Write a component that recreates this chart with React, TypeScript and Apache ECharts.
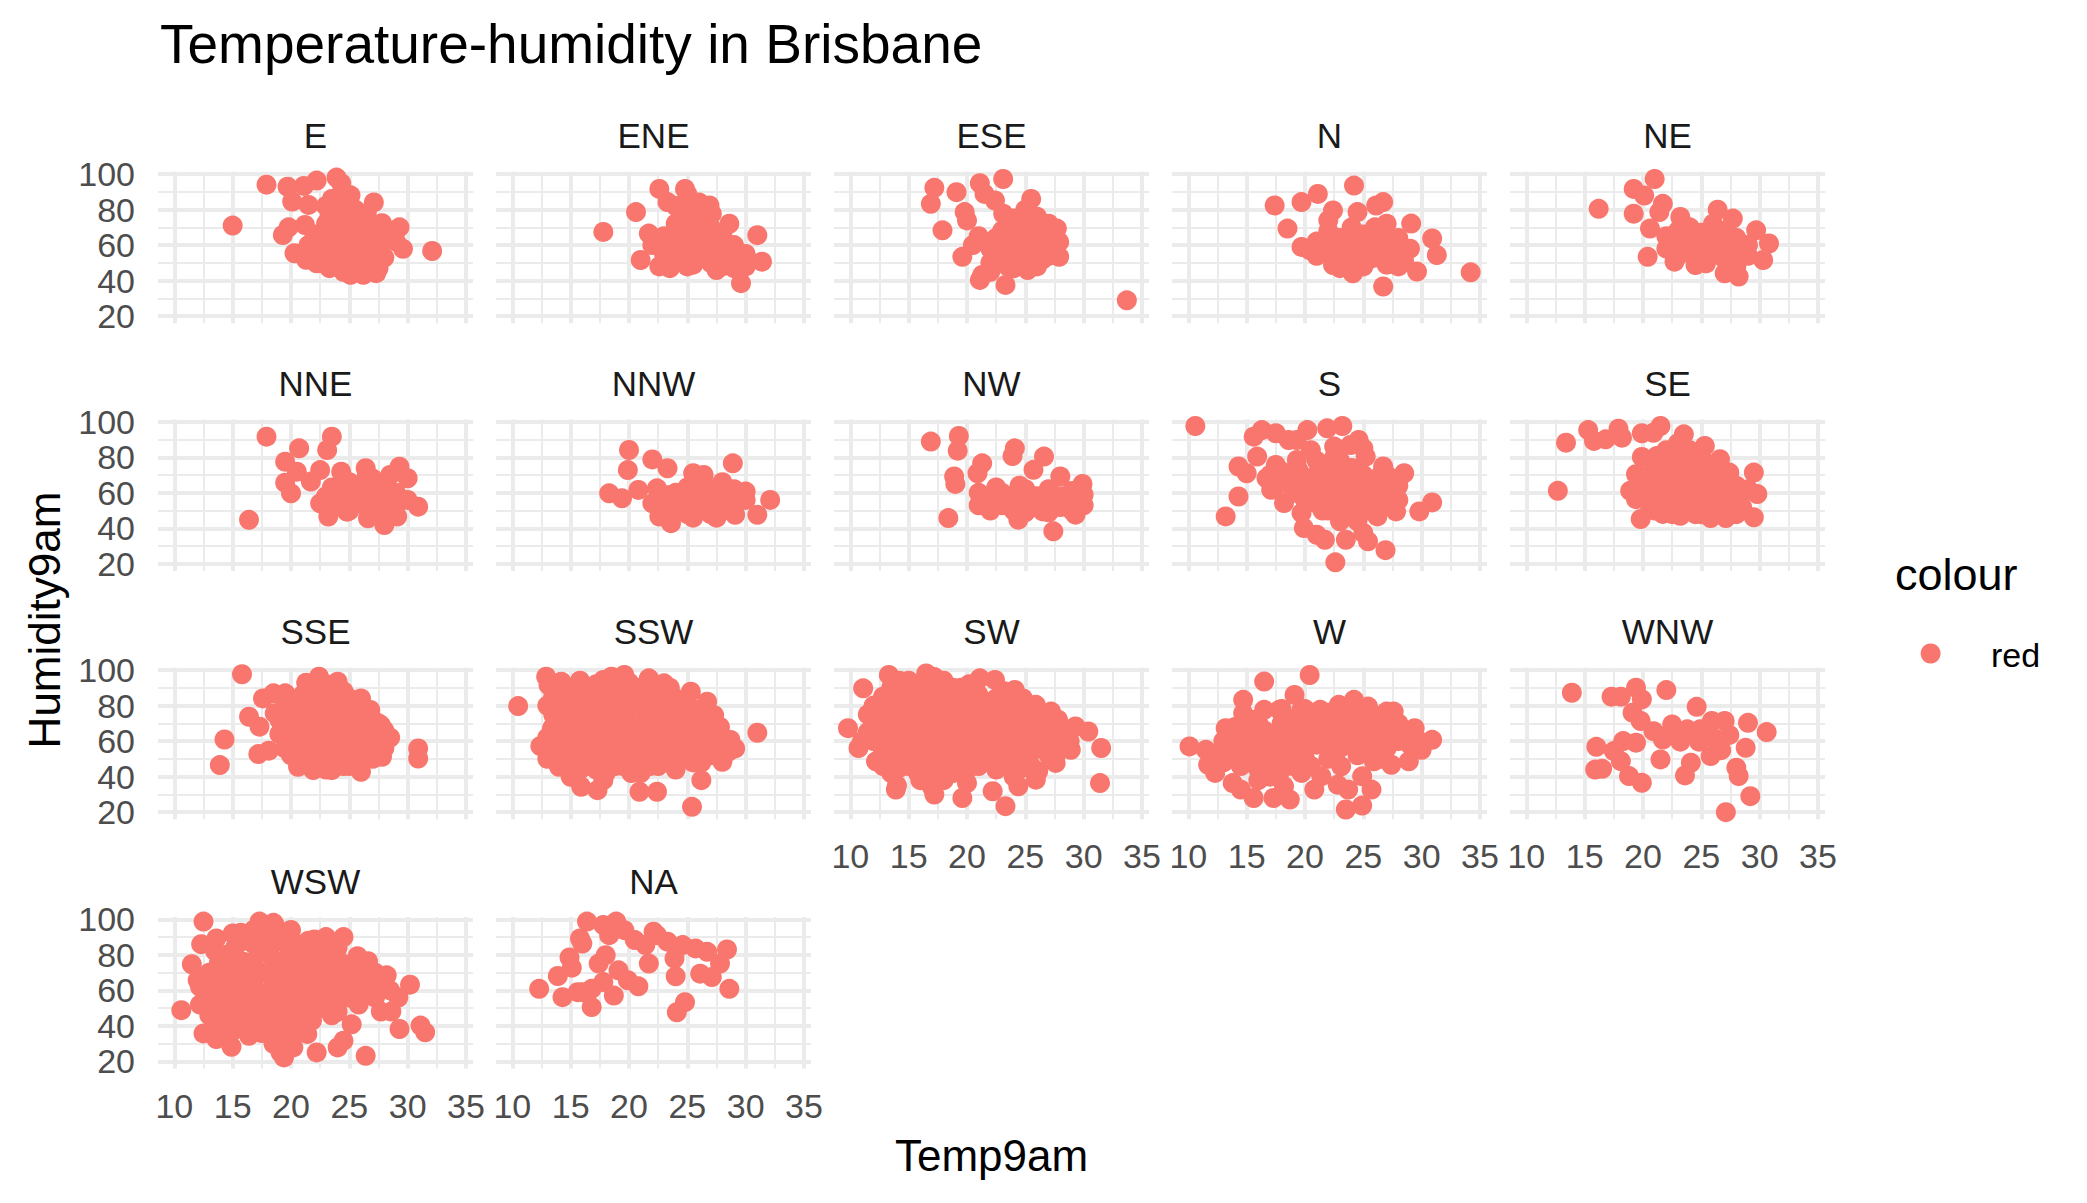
import React, { useEffect, useRef } from 'react';
import * as echarts from 'echarts';

const FONT = '"Liberation Sans", Arial, Helvetica, sans-serif';
const TITLE = 'Temperature-humidity in Brisbane';
const X_TITLE = 'Temp9am';
const Y_TITLE = 'Humidity9am';
const LEGEND_TITLE = 'colour';
const LEGEND_ITEM = 'red';
const POINT_COLOR = '#F8766D';

const PANELS = ['E', 'ENE', 'ESE', 'N', 'NE', 'NNE', 'NNW', 'NW', 'S', 'SE', 'SSE', 'SSW', 'SW', 'W', 'WNW', 'WSW', 'NA'];
const X_TICKS = [10, 15, 20, 25, 30, 35];
const X_MINOR = [12.5, 17.5, 22.5, 27.5, 32.5];
const Y_TICKS = [20, 40, 60, 80, 100];
const Y_MINOR = [30, 50, 70, 90];
const X_MIN = 8.6, X_MAX = 35.6, Y_MIN = 16, Y_MAX = 101.3;

type P = [number, number];

const E: P[] = [[15,71],[17.9,94],[19.7,92.9],[21.1,93.3],[22.2,96.3],[23.9,98],[24.3,94.8],[20.1,84.5],[21.5,82.6],[25.1,88],[27.1,84],[19.8,70],[19.3,65.7],[21.2,71.3],[20.3,55.4],[23.3,76],[27.8,72.3],[29.3,70],[29.6,57.9],[32.1,56.7],[22.2,49.8],[23.3,47],[25.1,43.3],[26.2,43.3],[27.3,44.2],[21.3,51.7],
[23.5,86],[24.5,90],[25,84],[24,80],[25.5,80],[26.5,78],[23,72],[24.5,74],[26,74],[27,70],[28.5,68],[22,66],[23.5,66],[25,67],[26.5,65],[28,63],[21.5,60],[23,60],[24.5,61],[26,60],[27.5,58],[29,62],[22,55],[23.5,54],[25,55],[26.5,54],[28,53],[22.5,50],[24,49],[25.5,48],[27,49],[24.5,45],[26.5,45],[27.5,47],
[22.5,58],[23.5,62],[24,57],[24.5,52],[25.5,58],[26,52],[25.5,64],[27,62],[27.5,55],[24,68],[25.5,72],[24.5,78],[23,82]];

const ENE: P[] = [[17.8,67.4],[20.6,78.6],[22.6,91.6],[23.3,84.2],[24.8,91.6],[25,88.8],[26.9,82.3],[27.1,77.7],[28.6,72],[31,65.6],[21,51.6],[22.6,48],[29.6,38.6],[31.4,50.7],[30,48],[21.7,66.5],
[22,60],[23,55],[23,65],[24,72],[24,62],[24,52],[25,78],[25,68],[25,58],[25,48],[26,74],[26,64],[26,54],[27,70],[27,60],[27,50],[28,66],[28,56],[28,48],[29,60],[29,52],[30,55],[24,82],[26,84],[23.5,47],[25.5,49],[27.5,46],[29,47],
[23.5,58],[24.5,57],[25.5,63],[26.5,58],[27.5,63],[28.5,52],[24.5,67],[26.5,68],[25.5,53],[23.5,50]];

const ESE: P[] = [[17.2,92.2],[16.9,83.2],[19.1,89.8],[21.1,94.8],[23.1,97.2],[21.5,88.8],[22.4,85.1],[19.8,78.6],[17.9,68.3],[20,73.9],[25.5,86],[23.1,77.7],[27.7,69.3],[27.9,61.8],[27.9,53.4],[19.6,53.4],[21.3,43.2],[21.1,40.4],[23.3,37.6],[25.2,46],[33.7,28.9],
[21,65],[22,58],[22,50],[23,68],[23,60],[23,52],[24,75],[24,64],[24,56],[24,47],[25,80],[25,70],[25,62],[25,54],[26,76],[26,66],[26,58],[26,48],[27,72],[27,62],[27,54],[22,45],[20.5,60],
[22.5,64],[23.5,56],[24.5,60],[24.5,70],[25.5,66],[25.5,58],[26.5,62],[26.5,52],[23.5,48],[25,50],[22.5,54],[27.5,58]];

const N: P[] = [[17.4,82.3],[19.7,84.2],[21.1,88.8],[24.2,93.5],[24.5,78.6],[26.1,82.3],[26.7,84.2],[18.5,69.3],[22.4,79.5],[29.1,72.1],[30.9,63.7],[31.3,54.4],[34.2,44.7],[29.6,45.1],[26.7,36.7],[24.1,44.1],[22.4,48.8],[19.7,59],[20.4,57.2],
[21,62],[21,54],[22,68],[22,58],[23,64],[23,55],[23,47],[24,60],[24,52],[25,66],[25,57],[25,48],[26,62],[26,53],[27,58],[27,49],[28,64],[28,55],[28,48],[29,58],[26,70],[27,72],[24,70],[22,74],
[22.5,61],[23.5,59],[24.5,56],[25.5,61],[26.5,57],[27.5,54],[28.5,51],[24.5,48],[25.5,52],[23.5,51],[26.5,66]];

const NE: P[] = [[16.2,80.4],[19.2,91.6],[20.1,87.9],[21,97.2],[19.2,77.7],[21.7,83.2],[21.4,78.6],[23.2,75.8],[26.4,79.9],[27.7,74.9],[20.6,69.3],[20.4,53.4],[22.7,50.7],[24.5,48.8],[25.4,49.7],[27,44.1],[28.2,42.3],[30.3,51.6],[30.8,60.9],[29.7,68.3],
[22,65],[22,58],[23,68],[23,60],[23,54],[24,63],[24,56],[25,67],[25,59],[25,52],[26,62],[26,55],[27,68],[27,60],[27,52],[28,64],[28,56],[28,48],[29,60],[29,54],[26,72],[24,70],
[22.5,62],[23.5,57],[24.5,60],[25.5,55],[26.5,58],[27.5,56],[28.5,60],[26.5,65],[24.5,66],[25.5,63]];

const NNE: P[] = [[16.4,44.8],[17.9,91.6],[20.7,85],[23.5,91.6],[23.1,84.1],[19.5,77.5],[20.5,71.9],[19.5,65.7],[20,59.7],[21.7,66.3],[22.5,72.8],[24.3,71.9],[22.5,54.1],[23.2,46.6],[24.8,49.4],[26.4,73.8],[29.3,74.7],[30,68.2],[30.9,52.2],[28,41.9],[26.6,45.7],[29.1,46.6],
[24,62],[24,55],[25,66],[25,58],[25,50],[26,62],[26,54],[27,68],[27,60],[27,52],[28,64],[28,56],[28,48],[29,60],[29,53],[30,56],[26.5,70],[28.5,70],[23,58],[23.5,63]];

const NNW: P[] = [[18.3,59.7],[19.4,56.9],[20,84.1],[19.9,72.8],[20.8,61.6],[22,78.8],[23.3,73.8],[22.4,62.5],[22,54.1],[22.6,46.6],[23.6,42.9],[23.5,58.8],[25.5,71],[26.4,70],[28.9,76.6],[32.1,56],[31,47.6],[29.1,47.6],[30,60.7],
[24,52],[24,60],[25,48],[25,55],[25,63],[26,50],[26,58],[26,66],[27,48],[27,55],[27,62],[28,50],[28,58],[28,66],[29,53],[29,62],[30,56],[23,50],[25.5,46],[27.5,46]];

const NW: P[] = [[16.9,88.8],[19.3,92],[19.2,83.7],[18.9,69.2],[19,65],[18.4,45.8],[21.3,76.6],[20.9,71],[23.9,80.7],[24.1,85],[26.6,80.4],[25.7,72.9],[28,69.2],[29.9,65],[30,58.9],[27.4,38.3],[24.4,44.9],[26.5,49.5],[29.3,47.7],
[21,60],[21,53],[22,56],[22,50],[23,60],[23,53],[24,57],[24,50],[25,62],[25,55],[25,49],[26,58],[26,52],[27,62],[27,55],[27,49],[28,58],[28,52],[29,61],[29,55],[29,50],[30,53],[22.5,63],[24.5,64]];

const S: P[] = [[10.6,97.6],[14.3,74.8],[15,71],[14.3,57.9],[13.2,46.7],[15.6,91.6],[16.3,95.3],[17.5,93.5],[18.6,89.7],[19.3,89.7],[20.2,95.3],[21.9,96.3],[23.2,97.6],[24.6,89.7],[25,85],[23.9,86.9],[15.9,80.4],[17.5,75.7],[19.3,78.5],[16.7,68.2],[17.1,61.7],[18.2,54.2],[19.7,48.6],[19.9,40.2],[21,36.4],[21.7,33.6],[23.5,33.6],[25,37.4],[25.4,32.7],[26.9,27.7],[22.6,20.9],[26.2,46.7],[27.8,49.5],[29.8,49.5],[30.9,54.6],[28.5,71],[26.7,74.8],[25.2,80.4],
[19.5,72],[20,64],[20,56],[21,78],[21,70],[21,62],[21,54],[22,74],[22,66],[22,58],[22,50],[23,78],[23,70],[23,62],[23,54],[24,74],[24,66],[24,58],[24,50],[25,70],[25,62],[25,54],[26,66],[26,58],[26,50],[27,70],[27,62],[27,54],[28,64],[28,56],[20.5,84],[22.5,86],[23,44],[24.5,44],[18.5,66],[17.5,64],
[20.5,68],[20.5,60],[21.5,74],[21.5,66],[21.5,58],[21.5,50],[22.5,80],[22.5,70],[22.5,62],[22.5,54],[23.5,74],[23.5,66],[23.5,58],[23.5,50],[24.5,70],[24.5,62],[24.5,54],[25.5,66],[25.5,58],[25.5,50],[26.5,70],[26.5,62],[26.5,54],[27.5,66],[27.5,58],[19,60],[18,72],[17,70]];

const SE: P[] = [[13.4,88.2],[12.7,61.1],[15.3,95.3],[15.8,89.2],[16.8,90.1],[17.9,96.1],[18.2,91],[19.9,93.5],[20.9,93.8],[21.5,97.6],[23.5,92.9],[25.3,86.4],[19.9,80.2],[21.2,80.7],[26.6,78.9],[27.4,71.4],[29.5,71.4],[29.8,59.3],[29.5,46.2],[27.1,45.8],[25.8,45.8],[23.2,47.1],[21.7,48.1],[19.8,45.2],[19.4,56.4],[19.4,70.5],[18.9,61.1],
[20,66],[20,58],[21,74],[21,66],[21,58],[21,50],[22,84],[22,76],[22,68],[22,60],[22,52],[23,80],[23,72],[23,64],[23,56],[24,84],[24,76],[24,68],[24,60],[24,52],[25,80],[25,72],[25,64],[25,56],[25,48],[26,74],[26,66],[26,58],[26,50],[27,68],[27,60],[27,52],[28,64],[28,56],[28,48],[29,62],[23,88],
[20.5,70],[20.5,62],[20.5,54],[21.5,80],[21.5,70],[21.5,62],[21.5,54],[22.5,80],[22.5,72],[22.5,64],[22.5,56],[22.5,48],[23.5,84],[23.5,76],[23.5,68],[23.5,60],[23.5,52],[24.5,80],[24.5,72],[24.5,64],[24.5,56],[24.5,48],[25.5,76],[25.5,68],[25.5,60],[25.5,52],[26.5,70],[26.5,62],[26.5,54],[27.5,64],[27.5,56],[27.5,48],[28.5,60],[28.5,52]];

const SSE: P[] = [[15.8,97.6],[14.3,60.9],[13.9,46.5],[16.4,73.7],[17.3,68.1],[17.2,52.7],[18.1,54.6],[19.5,55.9],[17.6,84],[18.5,86.9],[19.5,86.9],[21.3,92.9],[22.4,96.2],[24,93.4],[26,84],[26.8,77.5],[27.7,69],[28.2,60.6],[27.8,51.2],[26,42.7],[23.5,43.7],[21.9,43.7],[20.6,45.5],[30.9,55.9],[30.9,50.2],[18.6,75.6],
[19.5,80],[20,70],[20,62],[21,78],[21,70],[21,62],[21,54],[22,84],[22,76],[22,68],[22,60],[22,52],[23,88],[23,80],[23,72],[23,64],[23,56],[23,48],[24,82],[24,74],[24,66],[24,58],[24,50],[25,76],[25,68],[25,60],[25,52],[26,72],[26,64],[26,56],[26,48],[27,66],[27,58],[27,50],[24.5,88],
[20.5,74],[20.5,66],[20.5,58],[21.5,82],[21.5,74],[21.5,66],[21.5,58],[21.5,50],[22.5,88],[22.5,80],[22.5,72],[22.5,64],[22.5,56],[22.5,48],[23.5,84],[23.5,76],[23.5,68],[23.5,60],[23.5,52],[24.5,78],[24.5,70],[24.5,62],[24.5,54],[24.5,46],[25.5,72],[25.5,64],[25.5,56],[25.5,48],[26.5,68],[26.5,60],[26.5,52],[27.5,62],[27.5,54],[19.5,66],[20,76],
[19,72],[19,64],[20,82],[20,52],[21,86],[22,92],[23,92],[25,84],[25.5,80],[26,80],[26.5,76],[27,72],[28,66],[28,56],[28.5,62],[27.5,70],[25,46],[23,44],[22,46]];

const SSW: P[] = [[10.5,79.7],[12.4,57.2],[12.9,96.2],[13.1,91.5],[14.2,93.4],[15.8,89.7],[17.8,94.4],[18.5,96.2],[19.6,97.2],[21.7,95.3],[23,92.5],[25.3,87.8],[26.7,82.2],[27.3,74.6],[28.7,60.6],[29.1,55.9],[31,64.7],[28,48.4],[26.2,38],[25.4,23],[22.4,31.5],[20.9,31.5],[17.8,38],[17.3,32.4],[15.9,34.3],[15,39.9],[14,45.5],[13.4,67.1],
[13.5,85],[13.5,75],[13.5,55],[15,90],[15,80],[15,70],[15,60],[15,50],[16.5,86],[16.5,76],[16.5,66],[16.5,56],[16.5,46],[18,90],[18,80],[18,70],[18,60],[18,50],[18,42],[19.5,86],[19.5,76],[19.5,66],[19.5,56],[19.5,46],[21,90],[21,80],[21,70],[21,60],[21,50],[21,42],[22.5,86],[22.5,76],[22.5,66],[22.5,56],[22.5,46],[24,84],[24,74],[24,64],[24,54],[24,44],[25.5,78],[25.5,68],[25.5,58],[25.5,48],[27,72],[27,62],[27,52],[14,64],[20,93],[23.5,90],
[14.2,88],[14.2,80],[14.2,70],[14.2,60],[14.2,50],[15.8,94],[15.8,84],[15.8,74],[15.8,64],[15.8,54],[15.8,44],[17.2,92],[17.2,84],[17.2,74],[17.2,64],[17.2,54],[17.2,44],[18.8,94],[18.8,84],[18.8,74],[18.8,64],[18.8,54],[18.8,46],[20.2,88],[20.2,80],[20.2,70],[20.2,60],[20.2,50],[20.2,42],[21.8,92],[21.8,84],[21.8,74],[21.8,64],[21.8,54],[21.8,46],[23.2,88],[23.2,80],[23.2,70],[23.2,60],[23.2,50],[24.8,82],[24.8,72],[24.8,62],[24.8,52],[26.2,76],[26.2,66],[26.2,56],[26.2,48],[27.8,68],[27.8,58],[13,80],[13,62],[13,50],[28.5,54]];

const SW: P[] = [[9.8,67.3],[11.1,89.7],[10.7,56.1],[12.2,48.6],[13.9,32.7],[17.2,29.9],[19.6,28],[22.2,31.8],[23.3,23.4],[24.4,34.6],[25.9,38.3],[26.1,43],[27.6,47.7],[28.9,55.1],[29.3,68.2],[30.4,65.4],[31.5,56.1],[31.4,36.4],[20,36.4],[21.1,95.3],[22.4,94.4],[24.1,88.8],[25.9,80.4],[27.2,76.6],[13.3,97.2],[16.5,98.1],
[12,80],[12,70],[12,60],[13.5,90],[13.5,80],[13.5,70],[13.5,60],[13.5,50],[13.5,42],[15,94],[15,86],[15,76],[15,66],[15,56],[15,46],[16.5,92],[16.5,82],[16.5,72],[16.5,62],[16.5,52],[16.5,42],[18,94],[18,86],[18,76],[18,66],[18,56],[18,46],[18,38],[19.5,90],[19.5,80],[19.5,70],[19.5,60],[19.5,50],[19.5,42],[21,86],[21,76],[21,66],[21,56],[21,46],[22.5,84],[22.5,74],[22.5,64],[22.5,54],[22.5,44],[24,80],[24,70],[24,60],[24,50],[24,40],[25.5,74],[25.5,64],[25.5,54],[25.5,46],[27,70],[27,60],[27,52],[28,64],[14,35],[16,38],[17,34],
[12.8,85],[12.8,75],[12.8,65],[12.8,55],[12.8,46],[14.2,94],[14.2,85],[14.2,75],[14.2,65],[14.2,55],[14.2,45],[15.8,90],[15.8,80],[15.8,70],[15.8,60],[15.8,50],[15.8,42],[17.2,96],[17.2,88],[17.2,78],[17.2,68],[17.2,58],[17.2,48],[17.2,40],[18.8,90],[18.8,80],[18.8,70],[18.8,60],[18.8,50],[18.8,42],[20.2,92],[20.2,84],[20.2,74],[20.2,64],[20.2,54],[20.2,45],[21.8,80],[21.8,70],[21.8,60],[21.8,50],[23.2,88],[23.2,78],[23.2,68],[23.2,58],[23.2,48],[24.8,84],[24.8,74],[24.8,64],[24.8,54],[24.8,45],[26.2,76],[26.2,66],[26.2,56],[27.8,72],[27.8,62],[27.8,54],[11.5,75],[11.5,65],[11,60],[28.8,60]];

const W: P[] = [[10.1,57],[11.5,55.1],[11.7,46.7],[12.3,42.1],[13.2,67.3],[13.8,36.4],[14.5,32.7],[15.6,28],[17.3,28],[18.7,27.1],[18.2,34.6],[16.5,93.5],[20.4,97.2],[19.1,86],[14.7,83.2],[14.7,75.7],[16.5,77.6],[17.8,77.6],[19.7,77.6],[21.3,77.6],[22.9,80.4],[24.2,83.2],[25.4,79.4],[27,76.6],[27.6,76.6],[29.4,67.3],[30.9,60.7],[30,55.1],[28.9,48.6],[27.4,46.7],[25.9,48.6],[24.9,40.2],[25.7,32.7],[24.9,23.7],[23.5,21.5],[23.7,32.7],[22.8,35.5],[20.8,32.7],[21.4,40.2],[19.7,42.1],[23.1,45.8],[22.2,55.1],[26.7,55.1],
[13,60],[14,52],[14,62],[15,56],[15,48],[15,66],[16,60],[16,52],[16,44],[16,70],[17,56],[17,48],[17,64],[18,60],[18,70],[18,52],[19,64],[19,56],[19,72],[20,68],[20,60],[20,50],[21,72],[21,64],[22,68],[23,72],[24,66],[24,58],[25,72],[26,66],[27,62],[28,70],[26,58],[23,62],[17,40],[19,46],[22,76],[25,62],[28,60],
[18.5,66],[19.5,68],[20.5,72],[21.5,68],[22.5,72],[23.5,68],[24.5,70],[25.5,68],[26.5,70],[27.5,66],[24,62],[26,62],[20,56],[17.5,60],[15.5,60],[14.5,57],
[18,78],[20,78],[21,58],[22,62],[23,56],[24,74],[25,56],[26,74],[27,56],[28,64],[29,58],[29.5,62],[16.5,66],[15.5,72],[14,68],[13,56],[12,52],[13,48],[14.5,46],[16,38],[18,44],[20.5,46],[22,50],[24.5,52],[26.5,50],[27,68]];

const WNW: P[] = [[13.9,87.2],[17.3,85],[18.1,85],[19.4,90],[19.9,83.5],[22,88.7],[24.6,79.3],[19.1,76],[19.8,71.3],[20.9,65.6],[21.7,60.9],[22.5,69.4],[23.8,66.6],[24.9,66.6],[25.9,71.3],[27,71.3],[29,70.3],[30.6,65.1],[28.8,56.2],[26.7,54.9],[25.8,51.6],[24.1,47.8],[23.6,40.7],[21.5,49.7],[19.9,36.5],[18.8,40.3],[18.1,48.7],[17.5,54.4],[16,56.8],[15.9,44],[16.5,44.4],[18.3,60],[19.4,59.1],[28,45],[28.2,40.3],[29.2,29],[27.1,20],[24.8,59.7],[23.2,59.7],[26.1,61.6],[27.4,63.5],[22.2,63.5]];

const WSW: P[] = [[10.6,48.9],[12.5,98.7],[12.3,86],[13.6,89.2],[11.5,74.7],[12,65.7],[12.5,35.8],[13.6,32.6],[14.9,28.3],[16.4,34.5],[19.4,22.3],[19.1,25.1],[20.2,27.9],[22.2,25.1],[24,27.9],[24.5,31.7],[26.4,23.2],[25.2,40.9],[21.8,43],[21.4,35.5],[29.3,38.3],[31.1,40.2],[31.5,36.4],[30.2,63.2],[28.6,48.1],[27.7,48.1],[28.2,68.5],[26.6,76.4],[25.7,79.2],[24.5,90],[22,88.7],[20.9,85.8],[17.3,98.7],[18.6,96.8],[15.7,92.5],[19.5,92.5],
[13,70],[13,58],[13,46],[14.5,80],[14.5,68],[14.5,56],[14.5,44],[16,88],[16,76],[16,64],[16,52],[16,40],[17.5,92],[17.5,82],[17.5,70],[17.5,58],[17.5,46],[17.5,36],[19,88],[19,76],[19,64],[19,52],[19,40],[20.5,80],[20.5,68],[20.5,56],[20.5,44],[22,76],[22,64],[22,52],[23.5,80],[23.5,70],[23.5,58],[25,74],[25,64],[25,56],[26.5,68],[26.5,58],[27.5,62],[24,48],[18.5,30],[20,34],
[12.2,62],[12.2,52],[13.8,75],[13.8,64],[13.8,52],[13.8,42],[15.2,84],[15.2,72],[15.2,60],[15.2,48],[15.2,38],[16.8,94],[16.8,86],[16.8,76],[16.8,64],[16.8,52],[16.8,42],[18.2,90],[18.2,80],[18.2,70],[18.2,58],[18.2,46],[18.2,36],[19.8,84],[19.8,72],[19.8,60],[19.8,48],[19.8,38],[21.2,80],[21.2,70],[21.2,58],[21.2,46],[22.8,84],[22.8,72],[22.8,60],[22.8,50],[24.2,76],[24.2,64],[24.2,56],[25.8,70],[25.8,60],[25.8,52],[27.2,70],[27.2,56],[28.5,60],[29.2,56],[18.5,98],[20,94],[21.5,88],
[12.8,56],[13.5,66],[14,60],[14.8,50],[15.5,66],[15.5,56],[16.2,46],[16.5,70],[17,60],[17.2,50],[17.8,40],[18.5,64],[18.8,52],[19.5,44],[20,66],[20.2,76],[20.8,50],[21.5,62],[21.8,74],[22.5,56],[23,66],[23.5,46],[24.5,70],[24.8,60],[25.5,66],[26,56],[27,64],[23,90],[24,84],[21.5,82],[13.5,82],[15,92],[14.5,38],[16.5,36],[19.5,32],[21,40]];

const NA: P[] = [[12.3,60.9],[14.3,56.2],[13.9,68.1],[14.9,78.5],[15.1,72.8],[15.8,89.2],[16,86.4],[16.4,98.7],[17.8,96.8],[18.9,98.7],[18.3,91.1],[19.6,93.9],[20.5,88.3],[22.1,93],[21.4,85.5],[21.7,75.1],[23.3,87.4],[24.6,85.5],[23.9,77.9],[25.7,83.6],[26.7,81.7],[27.8,75.1],[28.4,83],[27.1,67.5],[26.1,69.4],[28.6,60.9],[24,67.9],[24.1,47.7],[24.8,53.4],[15.6,59],[16.8,50.6],[16.8,60.9],[17.4,75.1],[18,79.8],[18.7,57.1],[19.1,71.3],[19.9,65.7],[20.8,62.3],[22.4,91.1],[16,59],[17.8,64.7]];

const PANEL_DATA: Record<string, P[]> = { E, ENE, ESE, N, NE, NNE, NNW, NW, S, SE, SSE, SSW, SW, W, WNW, WSW, NA };

// layout (pixels)
const COL_LEFT = [158, 496, 834, 1172, 1510];
const ROW_TOP = [171.7, 419.4, 667.7, 917];
const PANEL_W = 315;
const PANEL_H = 151.6;

function buildOption() {
  const grid: any[] = [];
  const xAxis: any[] = [];
  const yAxis: any[] = [];
  const series: any[] = [];
  const graphic: any[] = [];

  PANELS.forEach((name, i) => {
    const row = Math.floor(i / 5);
    const col = i % 5;
    const showX = (row === 2 && col >= 2) || row === 3;
    const showY = col === 0;
    grid.push({ left: COL_LEFT[col], top: ROW_TOP[row], width: PANEL_W, height: PANEL_H, containLabel: false, outerBoundsMode: 'none' });
    xAxis.push({
      type: 'value', gridIndex: i, min: X_MIN, max: X_MAX,
      axisLine: { show: false }, axisTick: { show: false }, splitLine: { show: false },
      axisLabel: { show: showX, customValues: X_TICKS, margin: 20, fontSize: 34, color: '#4D4D4D', fontFamily: FONT },
    });
    yAxis.push({
      type: 'value', gridIndex: i, min: Y_MIN, max: Y_MAX,
      axisLine: { show: false }, axisTick: { show: false }, splitLine: { show: false },
      axisLabel: { show: showY, customValues: Y_TICKS, margin: 23, fontSize: 34, color: '#4D4D4D', fontFamily: FONT },
    });
    const mk = (xs: number[], ys: number[], w: number) => ({
      type: 'scatter', xAxisIndex: i, yAxisIndex: i, data: [], silent: true, z: 0,
      markLine: {
        silent: true, symbol: 'none', z: 0, animation: false,
        label: { show: false }, emphasis: { disabled: true },
        lineStyle: { color: '#EBEBEB', width: w, type: 'solid' },
        data: [...xs.map((v) => ({ xAxis: v })), ...ys.map((v) => ({ yAxis: v }))],
      },
    });
    series.push(mk(X_MINOR, Y_MINOR, 2));
    series.push(mk(X_TICKS, Y_TICKS, 4));
    series.push({
      type: 'scatter', name, xAxisIndex: i, yAxisIndex: i, data: PANEL_DATA[name],
      symbol: 'circle', symbolSize: 20, z: 3, silent: true,
      itemStyle: { color: POINT_COLOR, opacity: 1 },
    });
    graphic.push({
      type: 'text', x: COL_LEFT[col] + PANEL_W / 2, y: ROW_TOP[row] - 36,
      style: { text: name, fontSize: 35, fontFamily: FONT, fill: '#1A1A1A', align: 'center', verticalAlign: 'middle' },
    });
  });

  graphic.push({ type: 'text', x: 160, y: 44, style: { text: TITLE, fontSize: 55, fontFamily: FONT, fill: '#000', align: 'left', verticalAlign: 'middle' } });
  graphic.push({ type: 'text', x: 991.5, y: 1155, style: { text: X_TITLE, fontSize: 44, fontFamily: FONT, fill: '#000', align: 'center', verticalAlign: 'middle' } });
  graphic.push({ type: 'text', x: 44, y: 620, rotation: Math.PI / 2, style: { text: Y_TITLE, fontSize: 44, fontFamily: FONT, fill: '#000', align: 'center', verticalAlign: 'middle' } });
  graphic.push({ type: 'text', x: 1895, y: 574.5, style: { text: LEGEND_TITLE, fontSize: 45, fontFamily: FONT, fill: '#000', align: 'left', verticalAlign: 'middle' } });
  graphic.push({ type: 'circle', shape: { cx: 1930.6, cy: 653.5, r: 10 }, style: { fill: POINT_COLOR } });
  graphic.push({ type: 'text', x: 1991, y: 654.5, style: { text: LEGEND_ITEM, fontSize: 34, fontFamily: FONT, fill: '#000', align: 'left', verticalAlign: 'middle' } });

  return { animation: false, backgroundColor: '#FFFFFF', grid, xAxis, yAxis, series, graphic };
}

export default function App() {
  const ref = useRef<HTMLDivElement>(null);
  useEffect(() => {
    document.body.style.margin = '0';
    if (!ref.current) return;
    const chart = echarts.init(ref.current, undefined, { renderer: 'svg' });
    chart.setOption(buildOption() as any);
    return () => chart.dispose();
  }, []);
  return <div ref={ref} style={{ width: 2087, height: 1203 }} />;
}
